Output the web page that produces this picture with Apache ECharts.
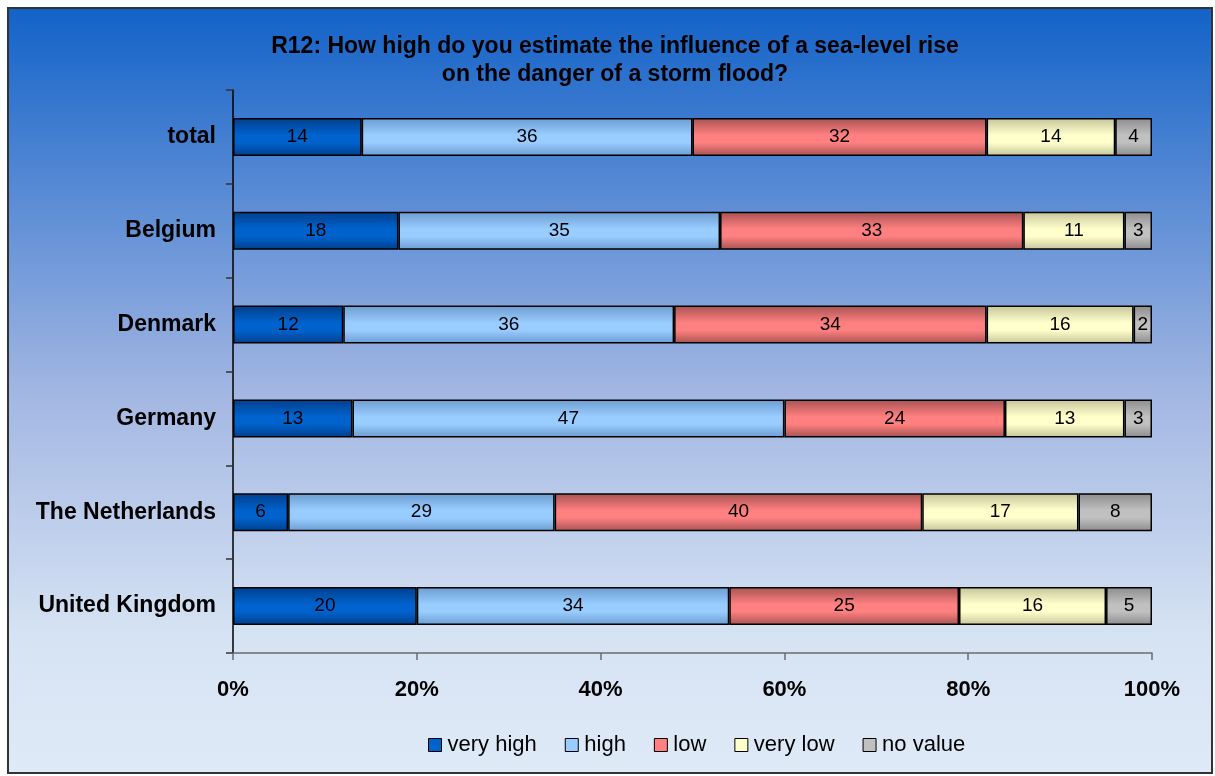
<!DOCTYPE html>
<html>
<head>
<meta charset="utf-8">
<script src="https://cdn.jsdelivr.net/npm/echarts@6/dist/echarts.min.js"></script>
<style>
  html, body { margin: 0; padding: 0; background: #ffffff; }
  #chart { width: 1215px; height: 776px; }
</style>
</head>
<body>
<div id="chart"></div>
<script>
// Survey answers per country, in percent
const categories = ['total', 'Belgium', 'Denmark', 'Germany', 'The Netherlands', 'United Kingdom'];
const seriesNames = ['very high', 'high', 'low', 'very low', 'no value'];
const veryHigh = [14, 18, 12, 13, 6, 20];
const high     = [36, 35, 36, 47, 29, 34];
const low      = [32, 33, 34, 24, 40, 25];
const veryLow  = [14, 11, 16, 13, 17, 16];
const noValue  = [4, 3, 2, 3, 8, 5];
const xTicks = [0, 20, 40, 60, 80, 100];

const values = [veryHigh, high, low, veryLow, noValue];
// base colour and shaded edge colour for each answer
const baseColors = ['#0062cc', '#99ccff', '#ff8080', '#ffffcc', '#c0c0c0'];
const edgeColors = ['#003f8c', '#6c9cd0', '#a65252', '#c4c49a', '#8c8c8c'];

const font = 'Liberation Sans, Arial, sans-serif';

function shaded(i) {
  return new echarts.graphic.LinearGradient(0, 0, 0, 1, [
    { offset: 0, color: edgeColors[i] },
    { offset: 0.45, color: baseColors[i] },
    { offset: 0.65, color: baseColors[i] },
    { offset: 1, color: edgeColors[i] }
  ]);
}

const chart = echarts.init(document.getElementById('chart'), null, { renderer: 'canvas' });

const option = {
  backgroundColor: '#ffffff',
  animation: false,
  graphic: [{
    type: 'rect',
    z: -10,
    silent: true,
    shape: { x: 8, y: 8, width: 1204, height: 765 },
    style: {
      fill: new echarts.graphic.LinearGradient(0, 0, 0, 1, [
        { offset: 0, color: '#1262c8' },
        { offset: 0.5, color: '#a2b6e2' },
        { offset: 0.82, color: '#d6e3f3' },
        { offset: 1, color: '#dfeaf7' }
      ]),
      stroke: '#333333',
      lineWidth: 2
    }
  }],
  title: {
    text: 'R12: How high do you estimate the influence of a sea-level rise\non the danger of a storm flood?',
    left: 610,
    textAlign: 'center',
    top: 28,
    textStyle: {
      fontFamily: font,
      fontSize: 23,
      fontWeight: 'bold',
      color: '#000000',
      lineHeight: 28
    }
  },
  legend: {
    left: 423,
    top: 729,
    itemWidth: 13,
    itemHeight: 13,
    itemGap: 28,
    icon: 'rect',
    textStyle: { fontFamily: font, fontSize: 22, color: '#000000', padding: [0, 0, 0, 1] },
    data: seriesNames.map((n, i) => ({
      name: n,
      itemStyle: { color: baseColors[i], borderColor: '#000000', borderWidth: 1 }
    }))
  },
  grid: { left: 233, right: 63, top: 90, bottom: 123, containLabel: false },
  xAxis: {
    type: 'value',
    min: xTicks[0],
    max: xTicks[xTicks.length - 1],
    interval: xTicks[1] - xTicks[0],
    splitLine: { show: false },
    axisLine: { show: true, lineStyle: { color: '#6b6b6b', width: 1.5 } },
    axisTick: { show: true, length: 7, lineStyle: { color: '#6b6b6b', width: 1.5 } },
    axisLabel: {
      formatter: '{value}%',
      fontFamily: font,
      fontSize: 22,
      fontWeight: 'bold',
      color: '#000000',
      margin: 26
    }
  },
  yAxis: {
    type: 'category',
    inverse: true,
    data: categories,
    axisLine: { show: true, lineStyle: { color: '#000000', width: 1.5 } },
    axisTick: { show: true, length: 7, lineStyle: { color: '#333333', width: 1.5 } },
    axisLabel: {
      fontFamily: font,
      fontSize: 23,
      fontWeight: 'bold',
      color: '#000000',
      margin: 17
    }
  },
  series: seriesNames.map((name, i) => ({
    name: name,
    type: 'bar',
    stack: 'all',
    barWidth: 38,
    data: values[i],
    itemStyle: {
      color: shaded(i),
      borderColor: '#000000',
      borderWidth: 1.5
    },
    label: {
      show: true,
      position: 'inside',
      fontFamily: font,
      fontSize: 19,
      color: '#000000'
    }
  }))
};

chart.setOption(option);
</script>
</body>
</html>
